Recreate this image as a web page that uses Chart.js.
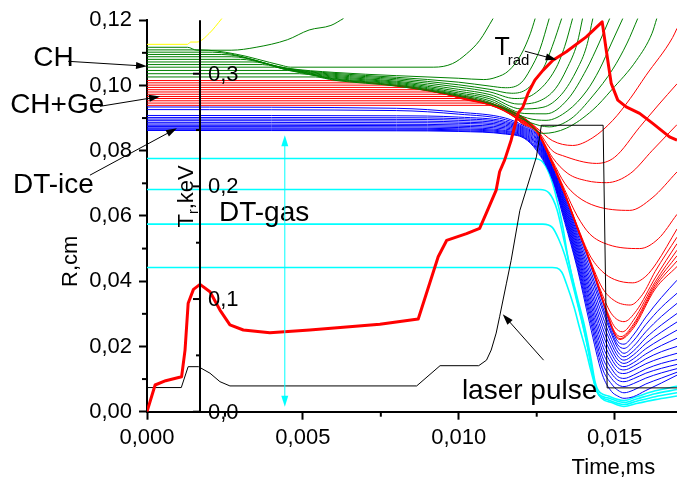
<!DOCTYPE html>
<html>
<head>
<meta charset="utf-8">
<script src="https://cdn.jsdelivr.net/npm/chart.js@4.4.0/dist/chart.umd.min.js"></script>
<style>
  html, body { margin: 0; padding: 0; background: #fff; }
  #wrap { width: 677px; height: 479px; }
</style>
</head>
<body>
<div id="wrap"><canvas id="c" width="677" height="479"></canvas></div>
<script>
// ---- axis ticks ----
const xTickLabels = ['0,000', '0,005', '0,010', '0,015'];
const rTickLabels = ['0,00', '0,02', '0,04', '0,06', '0,08', '0,10', '0,12'];
const tTickValues = [0, 0.1, 0.2, 0.3];
const tTickLabels = ['0,0', '0,1', '0,2', '0,3'];
const tMinorValues = [0.05, 0.15, 0.25];
const tAxisAt = 0.0017;           // time where the temperature axis stands

// ---- outer CH layer (yellow boundary + green zones), [time ms, R cm] ----
const yellowLine = [[0,0.1126],[0.0013,0.1126],[0.0014,0.1133],[0.0016,0.1133],[0.0020,0.1160],[0.0024,0.1205]];

const greenLines = [
  [[0,0.1117],[0.0013,0.1117],[0.0016,0.1108],[0.0027,0.1108],[0.0035,0.1117],[0.0045,0.1140],[0.0052,0.1170],[0.0059,0.1184],[0.0063,0.1205]],
  [[0,0.1109],[0.0017,0.1109],[0.0028,0.1097],[0.0043,0.1062],[0.0046,0.1056],[0.0092,0.1056],[0.0098,0.1067],[0.01025,0.1097],[0.01067,0.1138],[0.0111,0.1205]],
  [[0,0.1102],[0.0021,0.1102],[0.0045,0.1053],[0.0060,0.1040],[0.0080,0.1030],[0.0100,0.1022],[0.0108,0.1018],[0.0112,0.1025],[0.0116,0.1045],[0.0120,0.1095],[0.0123,0.1160],[0.01245,0.1205]],
  [[0,0.1095],[0.0024,0.1095],[0.0045,0.1052],[0.0060,0.1037],[0.0080,0.1025],[0.0100,0.1010],[0.0110,0.0998],[0.0115,0.0993],[0.0120,0.1008],[0.0123,0.1050],[0.0126,0.1110],[0.0129,0.1205]],
  [[0,0.1088],[0.0027,0.1088],[0.0045,0.1051],[0.0060,0.1034],[0.0080,0.1021],[0.0100,0.1002],[0.0110,0.0988],[0.0117,0.0976],[0.0122,0.0990],[0.0127,0.1050],[0.0130,0.1120],[0.0133,0.1205]],
  [[0,0.1080],[0.0030,0.1080],[0.0045,0.1050],[0.0060,0.1031],[0.0080,0.1017],[0.0100,0.0995],[0.0110,0.0980],[0.0118,0.0960],[0.0124,0.0973],[0.0131,0.1050],[0.0134,0.1120],[0.01365,0.1205]],
  [[0,0.1072],[0.0034,0.1072],[0.0045,0.1049],[0.0060,0.1028],[0.0080,0.1013],[0.0100,0.0988],[0.0110,0.0972],[0.0119,0.0943],[0.0126,0.0953],[0.0131,0.0990],[0.01346,0.1050],[0.0138,0.1130],[0.01397,0.1205]],
  [[0,0.1064],[0.0037,0.1064],[0.0045,0.1048],[0.0060,0.1025],[0.0080,0.1010],[0.0100,0.0982],[0.0110,0.0965],[0.0120,0.0928],[0.0127,0.0933],[0.0133,0.0973],[0.0138,0.1050],[0.0141,0.1120],[0.0143,0.1205]],
  [[0,0.1056],[0.0041,0.1056],[0.0045,0.1047],[0.0060,0.1022],[0.0080,0.1007],[0.0100,0.0977],[0.0110,0.0959],[0.0121,0.0914],[0.0128,0.0913],[0.0135,0.0958],[0.0141,0.1050],[0.0145,0.1130],[0.01484,0.1205]],
  [[0,0.1046],[0.0045,0.1046],[0.0060,0.1020],[0.0080,0.1004],[0.0100,0.0973],[0.0110,0.0953],[0.0122,0.0900],[0.0128,0.0893],[0.0135,0.0923],[0.0141,0.0983],[0.01452,0.1050],[0.0149,0.1130],[0.01526,0.1205]],
  [[0,0.1036],[0.0049,0.1036],[0.0060,0.1018],[0.0080,0.1001],[0.0100,0.0970],[0.0110,0.0948],[0.0123,0.0886],[0.0129,0.0873],[0.0136,0.0898],[0.0143,0.0968],[0.01494,0.1050],[0.0154,0.1130],[0.01574,0.1205]],
  [[0,0.1026],[0.0054,0.1026],[0.0060,0.1016],[0.0080,0.0998],[0.0100,0.0967],[0.0110,0.0944],[0.0120,0.0904],[0.0127,0.0853],[0.01345,0.0869],[0.0143,0.0925],[0.0149,0.0986],[0.0157,0.1077],[0.0162,0.1160],[0.01635,0.1205]]
];

// ---- CH+Ge layer ----
const redLines = [
  [[0,0.1015],[0.0059,0.1015],[0.0081,0.0998],[0.0100,0.0966],[0.0113,0.0937],[0.0120,0.0907],[0.0125,0.0870],[0.0130,0.0831],[0.01365,0.0816],[0.0143,0.0840],[0.01494,0.0893],[0.0155,0.0960],[0.0160,0.1030],[0.01686,0.1147],[0.0170,0.1175]],
  [[0,0.1008],[0.0069,0.1008],[0.0081,0.0997],[0.0100,0.0965],[0.0113,0.0936],[0.0120,0.0905],[0.0125,0.0866],[0.0130,0.0800],[0.01333,0.0785],[0.01442,0.0761],[0.0150,0.0780],[0.0158,0.0872],[0.0164,0.0940],[0.0170,0.1005]],
  [[0,0.1001],[0.0079,0.1001],[0.0090,0.0985],[0.0100,0.0964],[0.0113,0.0935],[0.0120,0.0903],[0.0125,0.0864],[0.0130,0.0780],[0.0135,0.0730],[0.0141,0.0708],[0.01474,0.0702],[0.0155,0.0730],[0.0162,0.0800],[0.0170,0.0880]],
  [[0,0.0994],[0.0085,0.0994],[0.0092,0.0981],[0.0100,0.0963],[0.0113,0.0934],[0.0120,0.0901],[0.0125,0.0863],[0.0130,0.0770],[0.0134,0.0700],[0.0138,0.0660],[0.0144,0.0630],[0.01548,0.0617],[0.0162,0.0655],[0.0170,0.0735]],
  [[0,0.0987],[0.0089,0.0987],[0.0095,0.0976],[0.0100,0.0962],[0.0113,0.0933],[0.0120,0.0899],[0.0125,0.0862],[0.0130,0.0766],[0.0134,0.0680],[0.0138,0.0600],[0.0142,0.0545],[0.0148,0.0512],[0.0158,0.0500],[0.0164,0.0530],[0.0170,0.0605]],
  [[0,0.0980],[0.0094,0.0980],[0.0100,0.0961],[0.0113,0.0932],[0.0120,0.0897],[0.0125,0.0862],[0.0130,0.0764],[0.0134,0.0672],[0.0138,0.0570],[0.0142,0.0480],[0.0146,0.0430],[0.0150,0.0405],[0.01558,0.0395],[0.0160,0.0415],[0.01634,0.0455],[0.0170,0.0560]],
  [[0,0.0973],[0.0098,0.0973],[0.0103,0.0958],[0.0113,0.0931],[0.0120,0.0895],[0.0125,0.0861],[0.0130,0.0763],[0.0134,0.0670],[0.0138,0.0568],[0.0142,0.0468],[0.0146,0.0380],[0.0150,0.0340],[0.0155,0.0327],[0.0159,0.0360],[0.0163,0.0430],[0.0170,0.0535]],
  [[0,0.0966],[0.0102,0.0966],[0.0106,0.0952],[0.0113,0.0930],[0.0120,0.0893],[0.0125,0.0860],[0.0130,0.0762],[0.0134,0.0669],[0.0138,0.0566],[0.0142,0.0465],[0.0146,0.0360],[0.0149,0.0300],[0.0153,0.0276],[0.0157,0.0310],[0.0163,0.0410],[0.0170,0.0515]],
  [[0,0.0960],[0.0104,0.0960],[0.0108,0.0946],[0.0113,0.0929],[0.0120,0.0891],[0.0125,0.0859],[0.0130,0.0761],[0.0134,0.0668],[0.0138,0.0565],[0.0142,0.0464],[0.01473,0.0315],[0.0150,0.0260],[0.01525,0.0245],[0.0156,0.0280],[0.0163,0.0398],[0.0170,0.0495]],
  [[0,0.0953],[0.0107,0.0953],[0.0110,0.0940],[0.0114,0.0925],[0.0120,0.0889],[0.0125,0.0858],[0.0130,0.0760],[0.0134,0.0667],[0.0138,0.0564],[0.0142,0.0463],[0.01473,0.0311],[0.0150,0.0245],[0.0152,0.0230],[0.0156,0.0268],[0.0163,0.0390],[0.0170,0.0478]],
  [[0,0.0946],[0.0110,0.0946],[0.0113,0.0935],[0.0116,0.0918],[0.0120,0.0887],[0.0125,0.0857],[0.0130,0.0759],[0.0134,0.0666],[0.0138,0.0563],[0.0142,0.0462],[0.01473,0.0309],[0.0150,0.0240],[0.01518,0.0224],[0.0156,0.0262],[0.0163,0.0383],[0.0170,0.0462]],
  [[0,0.0939],[0.0112,0.0939],[0.0115,0.0928],[0.0118,0.0905],[0.0120,0.0885],[0.0125,0.0856],[0.0130,0.0758],[0.0134,0.0665],[0.0138,0.0562],[0.0142,0.0461],[0.01473,0.0307],[0.0150,0.0238],[0.01516,0.0221],[0.0156,0.0256],[0.0163,0.0376],[0.0170,0.0445]]
];

// ---- DT-ice layer: radii sampled at common times ----
const blueTimes = [0, 0.0080, 0.0100, 0.0115, 0.0121, 0.0125, 0.0130, 0.0134, 0.0138, 0.0142, 0.0146, 0.0149, 0.0151, 0.0153, 0.0156, 0.0160, 0.0165, 0.0170];
const blueLines = [
  [0.0934,0.0930,0.0918,0.0900,0.0876,0.0852,0.0752,0.0660,0.0556,0.0455,0.0340,0.0255,0.0215,0.0207,0.0235,0.0290,0.0350,0.0403],
  [0.0926,0.0923,0.0912,0.0895,0.0872,0.0848,0.0749,0.0654,0.0547,0.0441,0.0326,0.0245,0.0205,0.0194,0.0217,0.0267,0.0320,0.0363],
  [0.0908,0.0907,0.0903,0.0890,0.0869,0.0844,0.0746,0.0648,0.0538,0.0427,0.0314,0.0237,0.0196,0.0179,0.0200,0.0245,0.0292,0.0332],
  [0.0902,0.0901,0.0898,0.0886,0.0866,0.0840,0.0743,0.0642,0.0529,0.0413,0.0296,0.0222,0.0183,0.0168,0.0186,0.0226,0.0266,0.0301],
  [0.0897,0.0896,0.0893,0.0882,0.0863,0.0836,0.0740,0.0636,0.0520,0.0399,0.0278,0.0207,0.0171,0.0158,0.0174,0.0209,0.0244,0.0275],
  [0.0892,0.0891,0.0888,0.0878,0.0860,0.0832,0.0737,0.0630,0.0511,0.0385,0.0260,0.0192,0.0159,0.0148,0.0162,0.0193,0.0223,0.0250],
  [0.0887,0.0886,0.0884,0.0874,0.0857,0.0828,0.0734,0.0624,0.0502,0.0371,0.0242,0.0177,0.0147,0.0138,0.0150,0.0177,0.0203,0.0225],
  [0.0882,0.0881,0.0879,0.0870,0.0854,0.0824,0.0731,0.0618,0.0493,0.0357,0.0224,0.0162,0.0135,0.0128,0.0139,0.0162,0.0184,0.0200],
  [0.0878,0.0877,0.0875,0.0866,0.0851,0.0820,0.0728,0.0612,0.0484,0.0343,0.0206,0.0147,0.0122,0.0117,0.0127,0.0147,0.0165,0.0179],
  [0.0874,0.0873,0.0871,0.0862,0.0848,0.0816,0.0725,0.0606,0.0475,0.0329,0.0188,0.0132,0.0108,0.0102,0.0112,0.0131,0.0148,0.0160],
  [0.0870,0.0869,0.0867,0.0859,0.0845,0.0812,0.0722,0.0600,0.0466,0.0315,0.0170,0.0117,0.0097,0.0092,0.0101,0.0118,0.0133,0.0145],
  [0.0867,0.0866,0.0864,0.0856,0.0842,0.0808,0.0719,0.0594,0.0457,0.0301,0.0152,0.0102,0.0083,0.0077,0.0086,0.0103,0.0119,0.0132],
  [0.0864,0.0863,0.0861,0.0853,0.0840,0.0804,0.0716,0.0588,0.0448,0.0287,0.0134,0.0085,0.0066,0.0058,0.0066,0.0085,0.0103,0.0121],
  [0.0862,0.0861,0.0859,0.0851,0.0838,0.0800,0.0712,0.0580,0.0440,0.0270,0.0115,0.0062,0.0048,0.0041,0.0046,0.0065,0.0088,0.0112]
];

// ---- DT-gas zones ----
const cyanLines = [
  [[0,0.0776],[0.0124,0.0776],[0.0127,0.0765],[0.0129,0.0730],[0.0131,0.0669],[0.01334,0.0566],[0.0135,0.0474],[0.01377,0.0362],[0.01404,0.0260],[0.01425,0.0158],[0.01436,0.0097],[0.01447,0.0066],[0.0148,0.0048],[0.0153,0.0034],[0.0157,0.0046],[0.0163,0.0064],[0.0170,0.0078]],
  [[0,0.0681],[0.0126,0.0681],[0.0129,0.0670],[0.01315,0.0620],[0.0134,0.0515],[0.01355,0.0450],[0.0138,0.0340],[0.01405,0.0238],[0.01426,0.0138],[0.01437,0.0082],[0.01448,0.0055],[0.0148,0.0042],[0.0153,0.0028],[0.0157,0.0039],[0.0163,0.0055],[0.0170,0.0068]],
  [[0,0.0575],[0.0127,0.0575],[0.0130,0.0565],[0.0132,0.0530],[0.0134,0.0480],[0.0136,0.0410],[0.01385,0.0315],[0.01408,0.0222],[0.01428,0.0125],[0.01439,0.0074],[0.0145,0.0050],[0.0148,0.0036],[0.0153,0.0022],[0.0157,0.0032],[0.0163,0.0046],[0.0170,0.0058]],
  [[0,0.0442],[0.0130,0.0442],[0.0133,0.0428],[0.01345,0.0393],[0.0137,0.0320],[0.01388,0.0255],[0.0141,0.0180],[0.0142,0.0140],[0.01441,0.0068],[0.01457,0.0042],[0.0149,0.0028],[0.0153,0.0016],[0.0157,0.0025],[0.0163,0.0037],[0.0170,0.0048]]
];

// ---- laser pulse shape (drawn in R units) ----
const laserPulse = [[0,0.0074],[0.00110,0.0074],[0.00132,0.0138],[0.00165,0.0138],[0.00202,0.0118],[0.00234,0.0092],[0.00266,0.0079],[0.00865,0.0079],[0.0094,0.0141],[0.01064,0.0141],[0.01089,0.0158],[0.01104,0.0189],[0.0112,0.0241],[0.01131,0.0291],[0.01153,0.0394],[0.01168,0.0464],[0.01196,0.0617],[0.01249,0.0781],[0.01265,0.0878],[0.01463,0.0878],[0.01476,0.0073],[0.0170,0.0073]];

// ---- radiation temperature, keV ----
const tradCurve = [[0,0],[0.00026,0.0237],[0.00060,0.0275],[0.00111,0.0310],[0.00122,0.0547],[0.00132,0.0962],[0.00149,0.1086],[0.0017,0.1130],[0.00202,0.1065],[0.00234,0.0902],[0.00266,0.0770],[0.00309,0.0725],[0.00394,0.0700],[0.00522,0.0725],[0.00747,0.0776],[0.0087,0.0823],[0.00934,0.1375],[0.00961,0.1520],[0.01025,0.1580],[0.01067,0.1627],[0.01088,0.1760],[0.0112,0.1967],[0.01131,0.2130],[0.01147,0.2233],[0.01168,0.2410],[0.01179,0.2529],[0.0119,0.2648],[0.01206,0.2706],[0.01222,0.2825],[0.01244,0.2943],[0.0127,0.3030],[0.01302,0.3120],[0.01345,0.3195],[0.01409,0.3327],[0.0146,0.3460],[0.01473,0.3210],[0.01489,0.2914],[0.0151,0.2766],[0.01537,0.2706],[0.0158,0.2648],[0.01622,0.2559],[0.01676,0.2440],[0.0170,0.2410]];

// ---- annotations: text anchored at [time, R] ----
const noteTexts = [
  { text: 'CH',          at: [-0.00365, 0.1061], size: 28 },
  { text: 'CH+Ge',       at: [-0.00439, 0.0916], size: 28 },
  { text: 'DT-ice',      at: [-0.00430, 0.0671], size: 28 },
  { text: 'DT-gas',      at: [ 0.00231, 0.0584], size: 28 },
  { text: 'laser pulse', at: [ 0.01010, 0.0039], size: 28 },
  { text: 'Time,ms',     at: [ 0.01362, -0.0190], size: 22 }
];
const noteArrows = [
  { from: [-0.00253, 0.1074], to: [0.0000, 0.1059] },
  { from: [-0.00151, 0.0936], to: [0.00042, 0.0966] },
  { from: [-0.00183, 0.0725], to: [0.00096, 0.0869] },
  { from: [ 0.01212, 0.1105], to: [0.01314, 0.1079] },
  { from: [ 0.01272, 0.0158], to: [0.01141, 0.0299] }
];
const gasArrow = { t: 0.00442, r1: 0.0847, r2: 0.0015 };

const FONT = '"Liberation Sans", Arial, Helvetica, sans-serif';
Chart.defaults.font.family = FONT;
Chart.defaults.color = '#000';

const toXY = pts => pts.map(p => ({ x: p[0], y: p[1] }));
const zoneClip = { left: 0, right: 0, top: 3, bottom: 0 };

function zone(points, color, width) {
  return {
    data: toXY(points), borderColor: color, borderWidth: width || 1,
    pointRadius: 0, fill: false, cubicInterpolationMode: 'monotone',
    yAxisID: 'y', clip: zoneClip
  };
}

const datasets = [];
// first entries end up on top
datasets.push({
  data: toXY(tradCurve), borderColor: '#ff0000', borderWidth: 3, pointRadius: 0,
  fill: false, tension: 0, yAxisID: 'yT', clip: zoneClip, borderJoinStyle: 'round'
});
datasets.push({
  data: toXY(laserPulse), borderColor: '#000', borderWidth: 1, pointRadius: 0,
  fill: false, tension: 0, yAxisID: 'y', clip: zoneClip
});
datasets.push(zone(yellowLine, '#ffff00'));
greenLines.forEach(l => datasets.push(zone(l, '#008000')));
redLines.forEach(l => datasets.push(zone(l, '#ff0000')));
blueLines.forEach(rs => datasets.push(zone(blueTimes.map((t, i) => [t, rs[i]]), '#0000ff')));
cyanLines.forEach(l => datasets.push(zone(l, '#00ffff', 1.6)));

function arrowHead(ctx, x1, y1, x2, y2, len, half) {
  const a = Math.atan2(y2 - y1, x2 - x1);
  ctx.beginPath();
  ctx.moveTo(x2, y2);
  ctx.lineTo(x2 - len * Math.cos(a) + half * Math.sin(a), y2 - len * Math.sin(a) - half * Math.cos(a));
  ctx.lineTo(x2 - len * Math.cos(a) - half * Math.sin(a), y2 - len * Math.sin(a) + half * Math.cos(a));
  ctx.closePath();
  ctx.fill();
}

const decor = {
  id: 'decor',
  afterDatasetsDraw(chart) {
    const { ctx, chartArea: a, scales } = chart;
    const x = scales.x, y = scales.y, yT = scales.yT;
    const seg = (x1, y1, x2, y2) => { ctx.beginPath(); ctx.moveTo(x1, y1); ctx.lineTo(x2, y2); ctx.stroke(); };
    ctx.save();
    ctx.strokeStyle = '#000';
    ctx.fillStyle = '#000';
    ctx.lineWidth = 2;

    // short minor ticks on the main axes
    x.ticks.forEach((tk, i) => { if (i % 2) { const px = x.getPixelForValue(tk.value); seg(px, a.bottom, px, a.bottom + 5); } });
    y.ticks.forEach((tk, i) => { if (i % 2) { const py = y.getPixelForValue(tk.value); seg(a.left - 5, py, a.left, py); } });

    // temperature axis inside the plot
    const tx = x.getPixelForValue(tAxisAt);
    seg(tx, a.top, tx, a.bottom);
    ctx.font = '22px ' + FONT;
    ctx.textAlign = 'left';
    ctx.textBaseline = 'middle';
    tTickValues.forEach((v, i) => {
      const py = yT.getPixelForValue(v);
      seg(tx - 7, py, tx, py);
      ctx.fillText(tTickLabels[i], tx + 8, py + 1);
    });
    tMinorValues.forEach(v => { const py = yT.getPixelForValue(v); seg(tx - 4, py, tx, py); });

    // axis titles
    ctx.save();
    ctx.translate(x.getPixelForValue(-0.00244), y.getPixelForValue(0.0461));
    ctx.rotate(-Math.PI / 2);
    ctx.textAlign = 'center';
    ctx.textBaseline = 'middle';
    ctx.font = '22px ' + FONT;
    ctx.fillText('R,cm', 0, 0);
    ctx.restore();

    ctx.save();
    ctx.translate(x.getPixelForValue(0.00128), y.getPixelForValue(0.0660));
    ctx.rotate(-Math.PI / 2);
    ctx.textBaseline = 'middle';
    ctx.textAlign = 'left';
    const big = '22px ' + FONT, small = '14px ' + FONT;
    ctx.font = big; const wT = ctx.measureText('T').width; const wRest = ctx.measureText(',keV').width;
    ctx.font = small; const wr = ctx.measureText('r').width;
    let cx = -(wT + wr + wRest) / 2;
    ctx.font = big; ctx.fillText('T', cx, 0); cx += wT;
    ctx.font = small; ctx.fillText('r', cx, 7); cx += wr;
    ctx.font = big; ctx.fillText(',keV', cx, 0);
    ctx.restore();

    // labels
    ctx.textAlign = 'left';
    ctx.textBaseline = 'alphabetic';
    noteTexts.forEach(n => {
      ctx.font = n.size + 'px ' + FONT;
      ctx.fillText(n.text, x.getPixelForValue(n.at[0]), y.getPixelForValue(n.at[1]));
    });
    // T_rad label
    ctx.font = '25px ' + FONT;
    ctx.fillText('T', x.getPixelForValue(0.01115), y.getPixelForValue(0.1092));
    ctx.font = '15px ' + FONT;
    ctx.fillText('rad', x.getPixelForValue(0.01157), y.getPixelForValue(0.1064));

    // pointer arrows
    ctx.lineWidth = 1;
    noteArrows.forEach(ar => {
      const x1 = x.getPixelForValue(ar.from[0]), y1 = y.getPixelForValue(ar.from[1]);
      const x2 = x.getPixelForValue(ar.to[0]), y2 = y.getPixelForValue(ar.to[1]);
      const a2 = Math.atan2(y2 - y1, x2 - x1);
      seg(x1, y1, x2 - 8 * Math.cos(a2), y2 - 8 * Math.sin(a2));
      arrowHead(ctx, x1, y1, x2, y2, 11, 3.5);
    });

    // double arrow across the gas region
    ctx.strokeStyle = '#00ffff';
    ctx.fillStyle = '#00ffff';
    const gx = x.getPixelForValue(gasArrow.t);
    const g1 = y.getPixelForValue(gasArrow.r1), g2 = y.getPixelForValue(gasArrow.r2);
    seg(gx, g1 + 8, gx, g2 - 8);
    arrowHead(ctx, gx, g2, gx, g1, 11, 3.5);
    arrowHead(ctx, gx, g1, gx, g2, 11, 3.5);
    ctx.restore();
  }
};

new Chart(document.getElementById('c'), {
  type: 'line',
  data: { datasets },
  options: {
    responsive: false,
    animation: false,
    devicePixelRatio: 1,
    layout: { padding: { top: 20, right: 0, bottom: 0, left: 0 } },
    plugins: { legend: { display: false }, tooltip: { enabled: false } },
    elements: { line: { borderCapStyle: 'butt' } },
    scales: {
      x: {
        type: 'linear', min: 0, max: 0.017, position: 'bottom',
        afterFit: s => { s.height = 67.3; },
        ticks: {
          stepSize: 0.0025, autoSkip: false, includeBounds: false, maxRotation: 0,
          padding: 5, font: { size: 22 }, color: '#000',
          callback: (v, i) => (i % 2 === 0 ? xTickLabels[i / 2] : '')
        },
        grid: {
          drawOnChartArea: false, tickLength: 8, tickWidth: 2,
          tickColor: c => (c.index % 2 ? 'rgba(0,0,0,0)' : '#000')
        },
        border: { display: true, color: '#000', width: 2 }
      },
      y: {
        type: 'linear', min: 0, max: 0.12, position: 'left',
        afterFit: s => { s.width = 147; },
        ticks: {
          stepSize: 0.01, autoSkip: false, padding: 7, font: { size: 22 }, color: '#000',
          callback: (v, i) => (i % 2 === 0 ? rTickLabels[i / 2] : '')
        },
        grid: {
          drawOnChartArea: false, tickLength: 8, tickWidth: 2,
          tickColor: c => (c.index % 2 ? 'rgba(0,0,0,0)' : '#000')
        },
        border: { display: true, color: '#000', width: 2 }
      },
      yT: { type: 'linear', display: false, min: 0, max: 0.3475 }
    }
  },
  plugins: [decor]
});
</script>
</body>
</html>
